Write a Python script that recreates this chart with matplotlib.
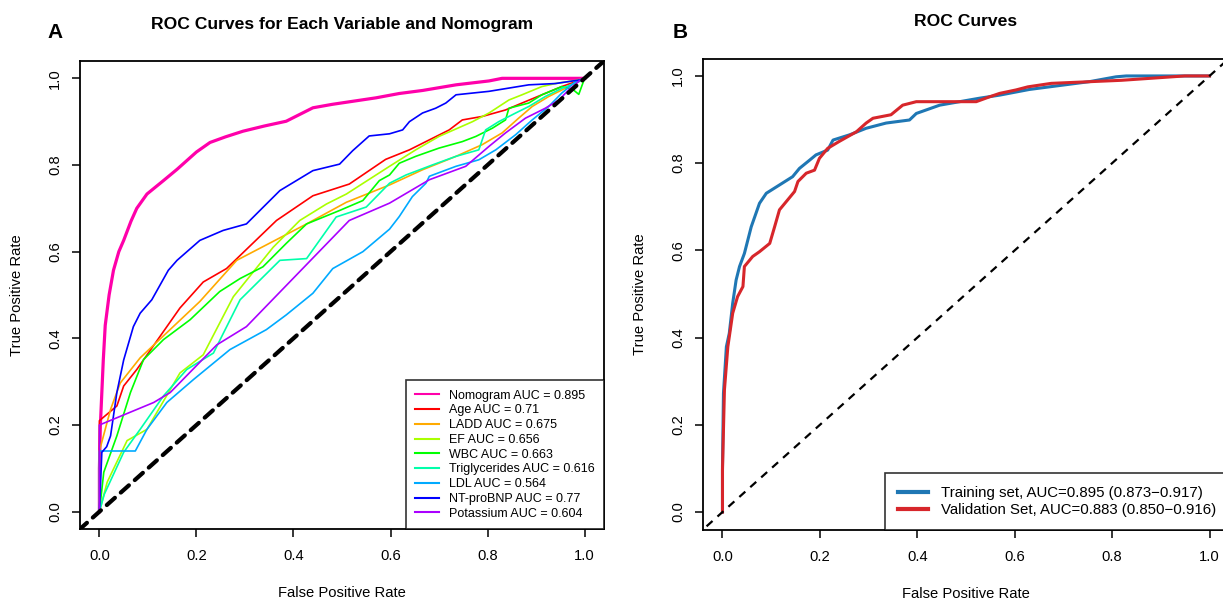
import matplotlib
matplotlib.use("Agg")
import matplotlib.pyplot as plt

plt.rcParams['font.family'] = ['Liberation Sans', 'DejaVu Sans']

# ---- panel A: ROC curves per variable ----
nomo_fpr = [0, 0.0, 0.002, 0.008, 0.012, 0.02, 0.029, 0.04, 0.05, 0.065, 0.077, 0.098, 0.132, 0.16, 0.18, 0.2,
            0.228, 0.26, 0.296, 0.34, 0.385, 0.44, 0.48, 0.522, 0.57, 0.618, 0.666, 0.735, 0.803, 0.83, 1.0]
nomo_tpr = [0, 0.1, 0.2, 0.35, 0.43, 0.5, 0.557, 0.6, 0.626, 0.67, 0.70, 0.733, 0.764, 0.79, 0.81, 0.83,
            0.852, 0.865, 0.878, 0.89, 0.901, 0.932, 0.94, 0.947, 0.955, 0.965, 0.972, 0.985, 0.994, 1.0, 1.0]

age_fpr = [0, 0, 0.036, 0.05, 0.077, 0.166, 0.214, 0.262, 0.365, 0.44, 0.515, 0.59, 0.639, 0.68, 0.721,
           0.748, 0.789, 0.837, 0.871, 0.912, 0.953, 0.991, 1.0]
age_tpr = [0, 0.21, 0.244, 0.29, 0.328, 0.47, 0.53, 0.561, 0.672, 0.729, 0.756, 0.813, 0.835, 0.858, 0.881,
           0.904, 0.912, 0.927, 0.943, 0.962, 0.981, 0.996, 1.0]

ladd_fpr = [0, 0, 0.023, 0.043, 0.084, 0.207, 0.283, 0.427, 0.509, 0.598, 0.666, 0.735, 0.789, 0.83, 0.864,
            0.892, 0.926, 0.96, 0.991, 1.0]
ladd_tpr = [0, 0.14, 0.236, 0.297, 0.355, 0.485, 0.58, 0.664, 0.714, 0.754, 0.789, 0.82, 0.847, 0.874, 0.908,
            0.935, 0.958, 0.977, 0.996, 1.0]

ef_fpr = [0, 0.016, 0.057, 0.098, 0.166, 0.214, 0.276, 0.358, 0.413, 0.468, 0.509, 0.598, 0.652, 0.7, 0.769,
          0.803, 0.844, 0.871, 0.912, 0.94, 0.981, 1.0]
ef_tpr = [0, 0.068, 0.164, 0.19, 0.32, 0.362, 0.496, 0.61, 0.672, 0.71, 0.733, 0.797, 0.835, 0.866, 0.9,
          0.92, 0.95, 0.962, 0.981, 0.988, 0.995, 1.0]

wbc_fpr = [0, 0.009, 0.036, 0.064, 0.091, 0.132, 0.187, 0.248, 0.29, 0.337, 0.385, 0.427, 0.495, 0.543, 0.577,
           0.598, 0.618, 0.652, 0.7, 0.748, 0.776, 0.81, 0.837, 0.844, 0.885, 0.912, 0.953, 0.975, 0.988, 1.0]
wbc_tpr = [0, 0.091, 0.175, 0.275, 0.351, 0.397, 0.443, 0.508, 0.538, 0.565, 0.619, 0.664, 0.695, 0.718, 0.764,
           0.777, 0.804, 0.82, 0.839, 0.854, 0.866, 0.885, 0.904, 0.931, 0.943, 0.962, 0.981, 0.975, 0.963, 1.0]

trig_fpr = [0, 0.01, 0.05, 0.084, 0.132, 0.18, 0.235, 0.29, 0.372, 0.427, 0.488, 0.55, 0.598, 0.632, 0.686,
            0.735, 0.782, 0.796, 0.823, 0.858, 0.885, 0.919, 0.953, 0.988, 1.0]
trig_tpr = [0, 0.04, 0.137, 0.19, 0.267, 0.328, 0.366, 0.489, 0.58, 0.584, 0.68, 0.703, 0.758, 0.777, 0.8,
            0.82, 0.835, 0.881, 0.9, 0.92, 0.935, 0.958, 0.977, 0.992, 1.0]

ldl_fpr = [0, 0, 0.074, 0.098, 0.139, 0.194, 0.269, 0.344, 0.385, 0.44, 0.481, 0.543, 0.598, 0.618, 0.645,
           0.673, 0.68, 0.735, 0.782, 0.817, 0.858, 0.892, 0.926, 0.953, 0.981, 1.0]
ldl_tpr = [0, 0.14, 0.14, 0.19, 0.252, 0.305, 0.374, 0.42, 0.454, 0.504, 0.561, 0.6, 0.652, 0.681, 0.727,
           0.758, 0.774, 0.797, 0.812, 0.835, 0.87, 0.904, 0.935, 0.966, 0.992, 1.0]

bnp_fpr = [0, 0.005, 0.015, 0.023, 0.036, 0.05, 0.07, 0.084, 0.108, 0.142, 0.16, 0.207, 0.255, 0.303, 0.337,
           0.372, 0.406, 0.44, 0.495, 0.522, 0.556, 0.598, 0.625, 0.639, 0.666, 0.693, 0.714, 0.735, 0.803,
           0.885, 0.94, 0.988, 1.0]
bnp_tpr = [0, 0.137, 0.15, 0.175, 0.275, 0.35, 0.427, 0.458, 0.489, 0.557, 0.58, 0.626, 0.649, 0.664, 0.702,
           0.741, 0.764, 0.787, 0.802, 0.833, 0.867, 0.872, 0.881, 0.9, 0.92, 0.931, 0.943, 0.962, 0.97,
           0.985, 0.988, 0.996, 1.0]

kal_fpr = [0, 0, 0.112, 0.146, 0.242, 0.303, 0.515, 0.598, 0.68, 0.755, 0.803, 0.837, 0.878, 0.919, 0.947,
           0.967, 0.991, 1.0]
kal_tpr = [0, 0.2, 0.252, 0.275, 0.385, 0.427, 0.672, 0.712, 0.766, 0.797, 0.843, 0.874, 0.908, 0.931, 0.95,
           0.973, 0.996, 1.0]

labels_a = ['Nomogram AUC = 0.895', 'Age AUC = 0.71', 'LADD AUC = 0.675', 'EF AUC = 0.656',
            'WBC AUC = 0.663', 'Triglycerides AUC = 0.616', 'LDL AUC = 0.564',
            'NT-proBNP AUC = 0.77', 'Potassium AUC = 0.604']
colors_a = ['#FF00AA', '#FF0000', '#FFAA00', '#AAFF00', '#00FF00', '#00FFAA', '#00AAFF', '#0000FF', '#AA00FF']

# ---- panel B: training vs validation ----
train_fpr = [0, 0, 0.002, 0.008, 0.014, 0.021, 0.028, 0.035, 0.045, 0.059, 0.076, 0.09, 0.117, 0.144, 0.158,
             0.179, 0.192, 0.216, 0.227, 0.261, 0.295, 0.336, 0.384, 0.398, 0.446, 0.487, 0.528, 0.569, 0.63,
             0.685, 0.754, 0.808, 0.829, 1.0]
train_tpr = [0, 0.104, 0.272, 0.379, 0.41, 0.479, 0.532, 0.563, 0.593, 0.654, 0.708, 0.731, 0.75, 0.769, 0.788,
             0.807, 0.819, 0.83, 0.853, 0.865, 0.88, 0.892, 0.899, 0.914, 0.933, 0.941, 0.949, 0.956, 0.969,
             0.977, 0.987, 0.998, 1.0, 1.0]
valid_fpr = [0, 0, 0.004, 0.011, 0.021, 0.031, 0.042, 0.045, 0.062, 0.076, 0.097, 0.107, 0.117, 0.134, 0.148,
             0.155, 0.172, 0.189, 0.199, 0.216, 0.24, 0.275, 0.295, 0.309, 0.346, 0.37, 0.398, 0.521, 0.548,
             0.569, 0.603, 0.627, 0.675, 0.819, 0.949, 1.0]
valid_tpr = [0, 0.096, 0.28, 0.379, 0.456, 0.494, 0.517, 0.563, 0.586, 0.597, 0.616, 0.654, 0.693, 0.716, 0.735,
             0.758, 0.777, 0.784, 0.811, 0.834, 0.85, 0.872, 0.892, 0.903, 0.911, 0.933, 0.941, 0.941, 0.952,
             0.96, 0.968, 0.975, 0.983, 0.99, 1.0, 1.0]
labels_b = ['Training set, AUC=0.895 (0.873\u22120.917)', 'Validation Set, AUC=0.883 (0.850\u22120.916)']
colors_b = ['#1F77B4', '#D7262B']

W, H = 1223, 601
fig = plt.figure(figsize=(W / 100, H / 100), dpi=100)
axA = fig.add_axes([80 / W, (H - 529) / H, 524 / W, 468 / H])
axB = fig.add_axes([703 / W, (H - 529.5) / H, 526 / W, 471 / H])

curves = [(nomo_fpr, nomo_tpr), (age_fpr, age_tpr), (ladd_fpr, ladd_tpr), (ef_fpr, ef_tpr),
          (wbc_fpr, wbc_tpr), (trig_fpr, trig_tpr), (ldl_fpr, ldl_tpr), (bnp_fpr, bnp_tpr),
          (kal_fpr, kal_tpr)]
for i, (fx, ty) in enumerate(curves):
    axA.plot(fx, ty, color=colors_a[i], lw=2.3 if i == 0 else 1.2, label=labels_a[i])
axA.plot([-0.1, 1.1], [-0.1, 1.1], color='black', lw=3.0, dashes=(2.6, 1.9), dash_capstyle='round')

axB.plot(train_fpr, train_tpr, color=colors_b[0], lw=2.2, label=labels_b[0])
axB.plot(valid_fpr, valid_tpr, color=colors_b[1], lw=2.2, label=labels_b[1])
axB.plot([-0.1, 1.1], [-0.1, 1.1], color='black', lw=1.6, dashes=(3.6, 3.0))

for ax in (axA, axB):
    ax.set_xlim(-0.04, 1.04)
    ax.set_ylim(-0.04, 1.04)
    ticks = [0, 0.2, 0.4, 0.6, 0.8, 1.0]
    ax.set_xticks(ticks)
    ax.set_yticks(ticks)
    ax.set_xticklabels(['%.1f' % t for t in ticks])
    ax.set_yticklabels(['%.1f' % t for t in ticks], rotation=90, va='center')
    ax.tick_params(axis='both', direction='out', length=6, width=1.1, labelsize=10.6)
    ax.tick_params(axis='x', pad=8.5)
    ax.tick_params(axis='y', pad=7)
    for s in ax.spines.values():
        s.set_linewidth(1.3)
    ax.set_xlabel('False Positive Rate', fontsize=10.6)
    ax.set_ylabel('True Positive Rate', fontsize=10.6)
    ax.xaxis.set_label_coords(0.5, -0.137)
    ax.xaxis.label.set_va('center')
    ax.yaxis.set_label_coords(-0.12, 0.5)
    ax.yaxis.label.set_va('center')

axA.text(0.5, 1.079, 'ROC Curves for Each Variable and Nomogram', transform=axA.transAxes,
         ha='center', va='center', fontsize=12.6, fontweight='bold')
axB.text(0.5, 1.079, 'ROC Curves', transform=axB.transAxes,
         ha='center', va='center', fontsize=12.6, fontweight='bold')
fig.text(55 / W, 1 - 32.5 / H, 'A', ha='center', va='center', fontsize=15, fontweight='bold')
fig.text(680 / W, 1 - 32.5 / H, 'B', ha='center', va='center', fontsize=15, fontweight='bold')

legA = axA.legend(loc='lower right', fontsize=9, frameon=True, fancybox=False, borderaxespad=0,
                  labelspacing=0.22, handlelength=1.9, handletextpad=0.8, borderpad=0.75)
legA.get_frame().set_edgecolor('black')
legA.get_frame().set_linewidth(1.2)
for h in legA.get_lines():
    h.set_linewidth(1.5)

legB = axB.legend(loc='lower right', fontsize=10.8, frameon=True, fancybox=False, borderaxespad=0,
                  labelspacing=0.2, handlelength=2.0, handletextpad=0.85, borderpad=0.85)
legB.get_frame().set_edgecolor('black')
legB.get_frame().set_linewidth(1.2)
for h in legB.get_lines():
    h.set_linewidth(3)

fig.savefig('out.png', dpi=100)
